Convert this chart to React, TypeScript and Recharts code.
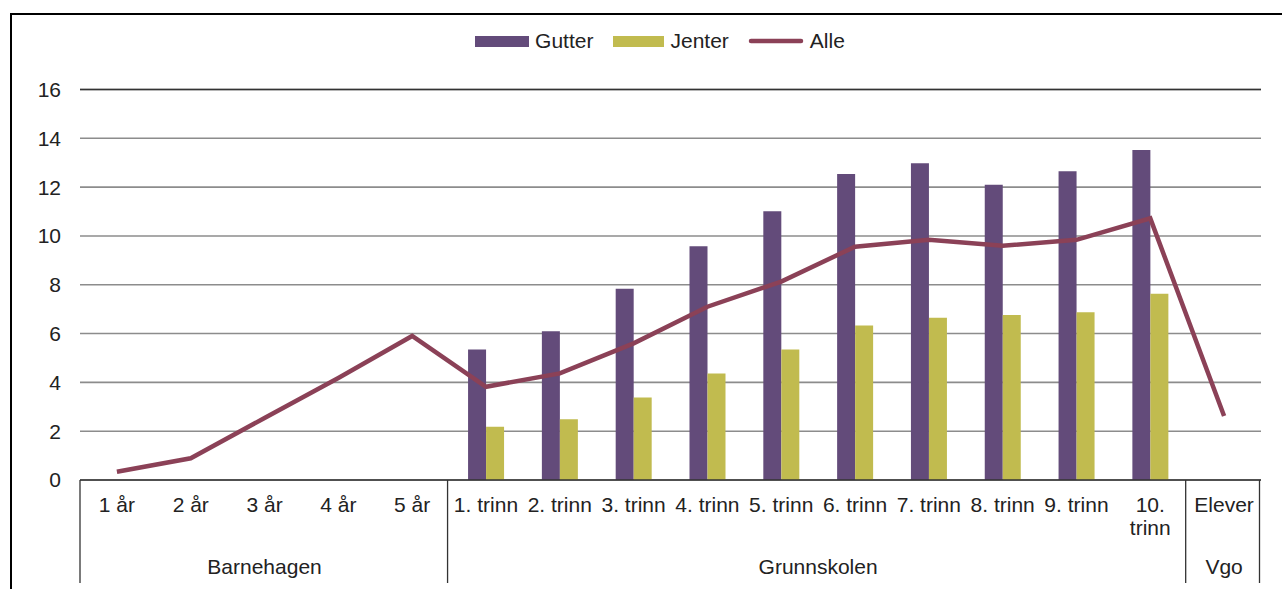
import React from 'react';
import {
  ComposedChart,
  Bar,
  Line,
  XAxis,
  YAxis,
  CartesianGrid,
  Legend,
  ReferenceLine,
} from 'recharts';

const categories = [
  '1 år', '2 år', '3 år', '4 år', '5 år',
  '1. trinn', '2. trinn', '3. trinn', '4. trinn', '5. trinn',
  '6. trinn', '7. trinn', '8. trinn', '9. trinn', '10. trinn',
  'Elever',
];
const gutter = [null, null, null, null, null, 5.35, 6.09, 7.84, 9.58, 11.01, 12.54, 12.98, 12.1, 12.65, 13.52, null];
const jenter = [null, null, null, null, null, 2.18, 2.49, 3.38, 4.36, 5.35, 6.33, 6.65, 6.76, 6.87, 7.63, null];
const alle = [0.34, 0.89, 2.54, 4.18, 5.9, 3.82, 4.37, 5.6, 7.1, 8.13, 9.56, 9.84, 9.6, 9.84, 10.72, 2.62];
const yTicks = [0, 2, 4, 6, 8, 10, 12, 14, 16];

// group label drawn under which tick, and shifted how many half-bands
const groups = [
  { label: 'Barnehagen', at: 2, shift: 0 },
  { label: 'Grunnskolen', at: 9, shift: 1 },
  { label: 'Vgo', at: 15, shift: 0 },
];
const separatorsAfter = [4, 14, 15];

const W = 1282;
const H = 589;
const LEFT = 80;
const RIGHT = 21;
const TOP = 89.5;
const BOTTOM = 109;
const BAND = (W - LEFT - RIGHT) / categories.length;
const FONT = '"Liberation Sans", Arial, sans-serif';
const TEXT = '#222';

const data = categories.map((cat, i) => ({
  cat,
  gutter: gutter[i],
  jenter: jenter[i],
  alle: alle[i],
}));

const CategoryTick = ({ x, y, payload }: any) => {
  const idx = payload.index;
  const words = payload.value === '10. trinn' ? ['10.', 'trinn'] : [payload.value];
  const group = groups.find((g) => g.at === idx);
  const half = BAND / 2;
  return (
    <g>
      {words.map((w: string, i: number) => (
        <text key={i} x={x} y={y + 32 + i * 23} textAnchor="middle" fill={TEXT} fontSize={21} fontFamily={FONT}>
          {w}
        </text>
      ))}
      {group && (
        <text x={x + group.shift * half} y={y + 94} textAnchor="middle" fill={TEXT} fontSize={21} fontFamily={FONT}>
          {group.label}
        </text>
      )}
      {idx === 0 && <line x1={x - half} x2={x - half} y1={y} y2={y + 103} stroke="#333" strokeWidth={1.3} />}
      {separatorsAfter.includes(idx) && (
        <line x1={x + half - 1.5} x2={x + half - 1.5} y1={y} y2={y + 103} stroke="#333" strokeWidth={1.3} />
      )}
    </g>
  );
};

const LegendContent = () => {
  const item = (swatch: React.ReactNode, label: string, gap: number) => (
    <div style={{ display: 'flex', alignItems: 'center', marginRight: gap }}>
      {swatch}
      <span style={{ marginLeft: 6, fontSize: 21, color: TEXT, fontFamily: FONT }}>{label}</span>
    </div>
  );
  return (
    <div style={{ display: 'flex', justifyContent: 'center', alignItems: 'center', paddingLeft: 38 }}>
      {item(<div style={{ width: 54, height: 11, background: '#634B7A' }} />, 'Gutter', 20)}
      {item(<div style={{ width: 51, height: 11, background: '#C1BB4F' }} />, 'Jenter', 19)}
      {item(
        <svg width={56} height={8}>
          <line x1={3} x2={53} y1={4} y2={4} stroke="#8B4157" strokeWidth={4.5} strokeLinecap="round" />
        </svg>,
        'Alle',
        0,
      )}
    </div>
  );
};

export default function App() {
  return (
    <div style={{ position: 'absolute', left: 0, top: 0, width: W, height: H, background: '#fff', overflow: 'hidden' }}>
      <div
        style={{
          position: 'absolute',
          left: 10,
          top: 13,
          width: W,
          height: H,
          borderLeft: '2.5px solid #000',
          borderTop: '2.5px solid #000',
        }}
      />
      <div style={{ position: 'absolute', left: 0, top: 0 }}>
        <ComposedChart
          width={W}
          height={H}
          data={data}
          margin={{ top: TOP, right: RIGHT, bottom: 0, left: 0 }}
          barGap={0}
          barSize={18}
        >
          <CartesianGrid vertical={false} stroke="#8c8c8c" strokeWidth={1.6} />
          <XAxis
            dataKey="cat"
            interval={0}
            height={BOTTOM}
            tickLine={false}
            tickSize={0}
            tickMargin={0}
            axisLine={{ stroke: '#333', strokeWidth: 1.5 }}
            tick={<CategoryTick />}
          />
          <YAxis
            domain={[0, 16]}
            ticks={yTicks}
            width={LEFT}
            tickLine={false}
            axisLine={false}
            tickSize={0}
            tickMargin={19}
            tick={{ fill: TEXT, fontSize: 21, fontFamily: FONT }}
          />
          <ReferenceLine y={16} stroke="#333" strokeWidth={1.3} />
          <Legend
            layout="horizontal"
            verticalAlign="middle"
            align="center"
            content={<LegendContent />}
            wrapperStyle={{ top: 29, left: 0, width: W }}
          />
          <Bar dataKey="gutter" name="Gutter" fill="#634B7A" isAnimationActive={false} />
          <Bar dataKey="jenter" name="Jenter" fill="#C1BB4F" isAnimationActive={false} />
          <Line
            dataKey="alle"
            name="Alle"
            type="linear"
            stroke="#8B4157"
            strokeWidth={4.5}
            dot={false}
            activeDot={false}
            isAnimationActive={false}
          />
        </ComposedChart>
      </div>
    </div>
  );
}
